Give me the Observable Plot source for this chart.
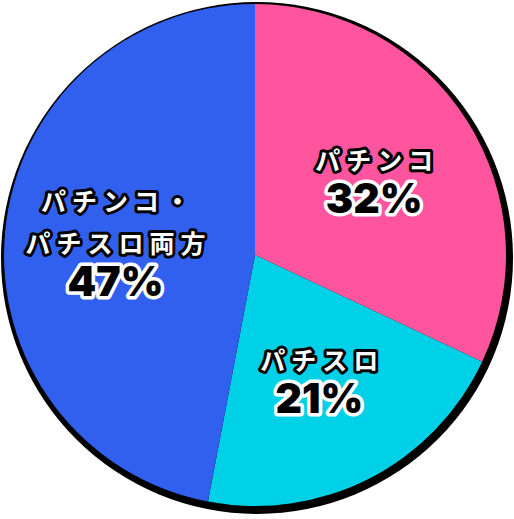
<!DOCTYPE html>
<html>
<head>
<meta charset="utf-8">
<script src="https://cdn.jsdelivr.net/npm/d3@7"></script>
<script src="https://cdn.jsdelivr.net/npm/@observablehq/plot@0.6"></script>
<style>
  html, body { margin: 0; padding: 0; background: #fff; }
  g[fill="white"] text { letter-spacing: 6px; }
</style>
</head>
<body>
<div id="chart"></div>
<script>
const categories = ["パチンコ", "パチスロ", "パチンコ・\nパチスロ両方"];
const shares = [32, 21, 47];
const colors = ["#ff559f", "#00d1e6", "#3160ee"];

const table = categories.map((c, i) => ({category: c, share: shares[i]}));
const arcs = d3.pie().sort(null).value(d => d.share)(table);
const labelRadius = 0.56;
const slices = arcs.map(a => {
  const mid = (a.startAngle + a.endAngle) / 2;
  const nLines = a.data.category.split("\n").length;
  return {
    category: a.data.category,
    share: a.data.share,
    startAngle: a.startAngle,
    endAngle: a.endAngle,
    // category lines followed by a blank line where the percentage sits
    catText: a.data.category + "\n ",
    shareText: "\n".repeat(nLines) + a.data.share + "%",
    lx: Math.sin(mid) * labelRadius,
    ly: -Math.cos(mid) * labelRadius
  };
});

const pieMark = Plot.dot(slices, {
  x: "lx", y: "ly", fill: "category",
  render: (index, scales, values, dimensions, context) => {
    const cx = scales.x(0), cy = scales.y(0);
    const r = scales.x(1) - scales.x(0);
    const g = d3.create("svg:g");
    g.append("circle")
      .attr("cx", cx + 2).attr("cy", cy + 3).attr("r", r + 5)
      .attr("fill", "#000");
    const arc = d3.arc().innerRadius(0).outerRadius(r);
    g.selectAll("path")
      .data(slices)
      .join("path")
      .attr("transform", `translate(${cx},${cy})`)
      .attr("d", d => arc(d))
      .attr("fill", d => scales.color(d.category));
    return g.node();
  }
});

const lineGap = 42;
const catSize = 25;
const shareSize = 41;

const chart = Plot.plot({
  width: 514,
  height: 519,
  margin: 0,
  x: {domain: [-1, 1], range: [4, 506], axis: null},
  y: {domain: [-1, 1], range: [4, 506], axis: null},
  color: {domain: categories, range: colors},
  marks: [
    pieMark,
    Plot.text(slices, {
      x: "lx", y: "ly", text: "catText",
      lineAnchor: "middle", lineHeight: lineGap / catSize, dx: 3, dy: -3,
      fontFamily: "Noto Sans CJK JP", fontWeight: "bold", fontSize: catSize,
      fill: "white", stroke: "black", strokeWidth: 6, strokeLinejoin: "round"
    }),
    Plot.text(slices, {
      x: "lx", y: "ly", text: "shareText",
      lineAnchor: "middle", lineHeight: lineGap / shareSize, dy: -2,
      fontFamily: "Inter, Roboto, DejaVu Sans", fontWeight: 900, fontSize: shareSize,
      fill: "black", stroke: "white", strokeWidth: 7, strokeLinejoin: "round"
    })
  ]
});
document.getElementById("chart").append(chart);
</script>
</body>
</html>
